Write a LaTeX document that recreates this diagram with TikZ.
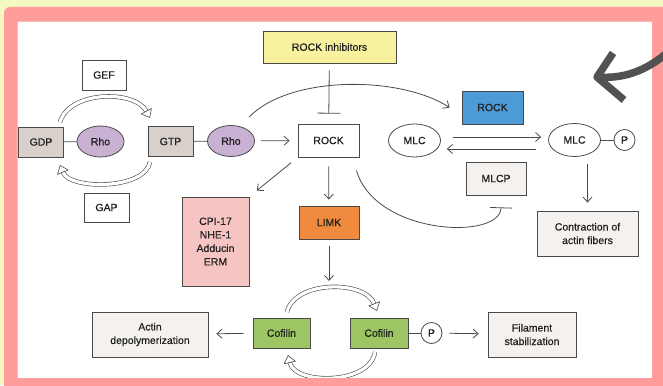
\documentclass[tikz,border=0pt]{standalone}
\usepackage{fontspec}
\setmainfont{Liberation Sans}[FakeBold=0.4]
\usepackage{tikz}
\usetikzlibrary{arrows.meta,positioning,calc,shapes.geometric}
\definecolor{paper}{RGB}{243,249,192}
\definecolor{frame}{RGB}{255,156,156}
\definecolor{ink}{RGB}{74,74,74}
\definecolor{gtpgrey}{RGB}{216,208,203}
\definecolor{lilac}{RGB}{200,177,211}
\definecolor{lemon}{RGB}{248,241,157}
\definecolor{blue}{RGB}{76,155,214}
\definecolor{orange}{RGB}{239,138,62}
\definecolor{rose}{RGB}{246,197,195}
\definecolor{leaf}{RGB}{156,198,100}
\definecolor{pale}{RGB}{244,241,238}
\tikzset{
  flow/.style={-{Straight Barb[length=5pt,width=9pt]},line width=0.8pt,draw=ink},
  block/.style={-{Bar[width=23pt]},line width=0.8pt,draw=ink},
  turn/.style={-{Triangle[open,length=8pt,width=12.5pt]},double=white,
               double distance=3.2pt,line width=0.6pt,draw=ink},
  box/.style={draw=ink,line width=0.8pt,fill=white,align=center,
              inner sep=1pt,text=black!88},
  gbox/.style={box,fill=gtpgrey,minimum width=45pt,minimum height=30pt},
  rho/.style={box,ellipse,fill=lilac,minimum width=47pt,minimum height=31pt},
  mlc/.style={box,ellipse,minimum width=52pt,minimum height=33pt},
  phos/.style={box,circle,minimum size=21pt},
  palebox/.style={box,fill=pale}
}

\begin{document}
\begin{tikzpicture}[x=1pt,y=-1pt,font=\fontsize{10.5}{13.5}\selectfont]
  \useasboundingbox (0,0) rectangle (663,385);
  \fill[paper] (0,0) rectangle (663,385);
  \fill[white] (17.7,21.7) rectangle (652,378);

  % Rho cycle
  \node[gbox] (gdp) at (41,142) {GDP};
  \node[rho] (rho1) at (100.5,141.5) {Rho};
  \node[gbox] (gtp) at (170.5,141.5) {GTP};
  \node[rho] (rho2) at (231,141) {Rho};
  \node[box,minimum width=44pt,minimum height=30pt] (gef) at (104,75) {GEF};
  \node[box,minimum width=45pt,minimum height=29pt] (gap) at (106.5,207.5) {GAP};
  \draw[ink,line width=0.8pt] (gdp)--(rho1);
  \draw[ink,line width=0.8pt] (gtp)--(rho2);
  \coordinate (gefa) at (60,122);
  \coordinate (gefb) at (150,118);
  \coordinate (gapa) at (150,162);
  \coordinate (gapb) at (60,165);
  \draw[turn] (gefa) .. controls (70,90) and (135,90) .. (gefb);
  \draw[turn] (gapa) .. controls (145,190) and (70,190) .. (gapb);

  % ROCK and its targets
  \node[box,fill=lemon,minimum width=133pt,minimum height=32pt] (inhib) at (329.5,47) {ROCK inhibitors};
  \node[box,minimum width=61pt,minimum height=33pt] (rock) at (328.5,140.5) {ROCK};
  \node[box,fill=rose,minimum width=67pt,minimum height=89pt] (cpi) at (215.5,241.5)
    {CPI-17\\NHE-1\\Adducin\\ERM};
  \node[box,fill=orange,minimum width=60pt,minimum height=33pt] (limk) at (329,222.5) {LIMK};
  \draw[flow,shorten <=6pt,shorten >=8pt] (rho2)--(rock);
  \draw[block,shorten <=7pt,shorten >=10pt] (inhib)--(rock);
  \draw[flow,shorten <=9pt,shorten >=6pt] (rock)--(limk);
  \draw[flow,shorten <=8.5pt,shorten >=9.5pt] (rock.south west)--(cpi.north east);

  % MLC branch
  \node[box,fill=blue,minimum width=61pt,minimum height=33pt] (rockb) at (492.5,107.5) {ROCK};
  \node[mlc] (mlc1) at (414.5,140.5) {MLC};
  \node[mlc] (mlc2) at (574.5,140) {MLC};
  \node[phos] (p1) at (624.5,140) {P};
  \node[palebox,minimum width=60pt,minimum height=33pt] (mlcp) at (496,178.5) {MLCP};
  \node[palebox,minimum width=101pt,minimum height=45pt] (contr) at (587.5,233.5)
    {Contraction of\\actin fibers};
  \draw[ink,line width=0.8pt] (mlc2)--(p1);
  \draw[flow,shorten <=12pt,shorten >=7pt] ([yshift=3.5pt]mlc1.east)--([yshift=3pt]mlc2.west);
  \draw[flow,shorten <=12pt,shorten >=6pt] ([yshift=-9pt]mlc2.west)--([yshift=-8.5pt]mlc1.east);
  \draw[flow,shorten <=7.5pt,shorten >=8pt] (mlc2.south -| contr.north)--(contr.north);
  \draw[flow] ([shift={(18,-8)}]rho2.north) .. controls +(41,-42) and +(-50,-32) .. ([xshift=-12pt]rockb.west);
  \draw[block,-{Bar[width=22pt]}] ([shift={(-3,13)}]rock.south east) .. controls +(19,65) and +(-1,33) .. ([shift={(5,12)}]mlcp.south);

  % cofilin cycle
  \node[box,fill=leaf,minimum width=57pt,minimum height=30pt] (cof1) at (281.5,333) {Cofilin};
  \node[box,fill=leaf,minimum width=58pt,minimum height=30pt] (cof2) at (379,333) {Cofilin};
  \node[phos] (p2) at (431.5,333) {P};
  \node[palebox,minimum width=116pt,minimum height=45pt] (actin) at (150,334.5)
    {Actin\\depolymerization};
  \node[palebox,minimum width=88pt,minimum height=45pt] (fil) at (532,334.5)
    {Filament\\stabilization};
  \draw[ink,line width=0.8pt] (cof2)--(p2);
  \coordinate (limkin) at (329,281);
  \draw[flow,shorten <=7pt] (limk)--(limkin);
  \draw[flow,shorten <=9pt,shorten >=8pt] (cof1)--(actin);
  \draw[flow,shorten <=7pt,shorten >=9pt] (p2)--(fil);
  \coordinate (cofa) at (287,312);
  \coordinate (cofb) at (377,311);
  \coordinate (cofc) at (375,352);
  \coordinate (cofd) at (288,355);
  \draw[turn] (cofa) .. controls (295,280) and (365,280) .. (cofb);
  \draw[turn] (cofc) .. controls (370,385) and (295,385) .. (cofd);

  % pink frame and pointer
  \fill[frame,even odd rule] [rounded corners=6pt] (4,7) rectangle (690,400)
    [sharp corners] (17.7,21.7) rectangle (652,378);
  \coordinate (ptra) at (668,52);
  \coordinate (ptrb) at (597,77);
  \draw[black!68,line width=7.5pt] (ptra) .. controls (645,72) and (622,79) .. (ptrb);
  \draw[black!68,line width=7.5pt,line join=round] (613,53)--(ptrb)--(624,100);
\end{tikzpicture}
\end{document}
